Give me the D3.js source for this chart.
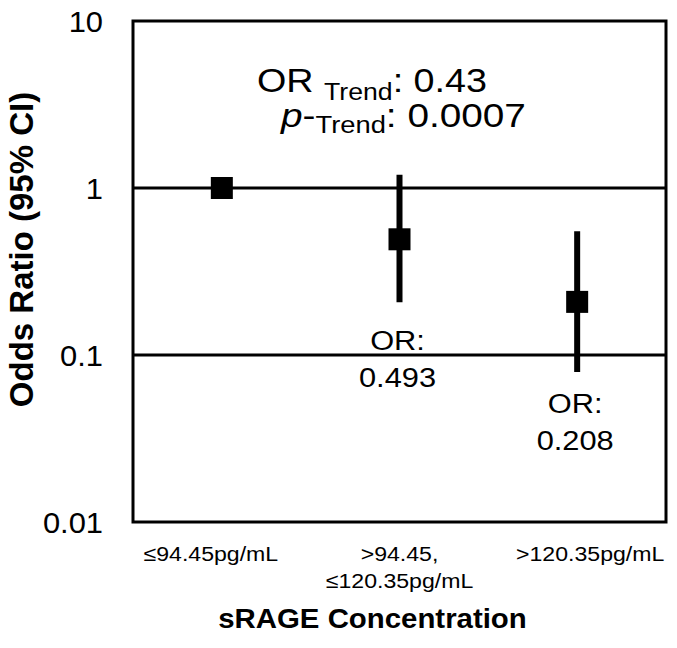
<!DOCTYPE html>
<html>
<head>
<meta charset="utf-8">
<script src="https://cdn.jsdelivr.net/npm/d3@7"></script>
<style>
  body { margin: 0; background: #fff; }
  svg { display: block; font-family: "Liberation Sans", Arial, sans-serif; }
</style>
</head>
<body>
<div id="chart"></div>
<script>
// data
var categories = ["c1", "c2", "c3"];
var catLabels = [["\u226494.45pg/mL"], [">94.45,", "\u2264120.35pg/mL"], [">120.35pg/mL"]];
var oddsRatio = [1, 0.493, 0.208];
var ciLow = [null, 0.207, 0.079];
var ciHigh = [null, 1.2, 0.55];
var orLabels = [null, "0.493", "0.208"];
var yTicks = [0.01, 0.1, 1, 10];
var yTickLabels = ["0.01", "0.1", "1", "10"];
var gridValues = [0.1, 1];

var width = 677, height = 648;
var plotLeft = 133, plotRight = 666, plotTop = 21, plotBottom = 522;
var sx = 1.1; // the figure's text is a bit stretched sideways

var svg = d3.select("#chart").append("svg")
  .attr("width", width)
  .attr("height", height);

var x = d3.scaleBand().domain(categories).range([plotLeft, plotRight]);
var y = d3.scaleLog().domain([0.01, 10]).range([plotBottom, plotTop]);

function cx(c) { return x(c) + x.bandwidth() / 2; }

// gridlines
svg.selectAll(".grid")
  .data(gridValues)
  .enter().append("line")
  .attr("x1", plotLeft).attr("x2", plotRight)
  .attr("y1", function(d){ return y(d); })
  .attr("y2", function(d){ return y(d); })
  .attr("stroke", "#000")
  .attr("stroke-width", 3);

// frame
svg.append("rect")
  .attr("x", plotLeft).attr("y", plotTop)
  .attr("width", plotRight - plotLeft).attr("height", plotBottom - plotTop)
  .attr("fill", "none")
  .attr("stroke", "#000")
  .attr("stroke-width", 3);

// y axis labels
var yAxis = svg.append("g")
  .attr("transform", "translate(" + plotLeft + ",0)")
  .call(d3.axisLeft(y).tickValues(yTicks).tickSize(0)
    .tickFormat(function(d, i){ return yTickLabels[i]; }));
yAxis.select(".domain").remove();
yAxis.selectAll("text")
  .attr("font-size", 30)
  .attr("font-family", "Liberation Sans, Arial, sans-serif")
  .attr("fill", "#000")
  .attr("dy", "0.36em")
  .attr("x", null)
  .attr("transform", "translate(-30,0) scale(1.03,1)");

// x category labels (the figure spreads them a little wider than the points)
var labShift = {c1: -11, c2: 0, c3: 13};
var xl = svg.selectAll(".xlab")
  .data(categories)
  .enter().append("text")
  .attr("class", "xlab")
  .attr("text-anchor", "middle")
  .attr("font-size", 21)
  .attr("transform", function(d){ return "translate(" + (cx(d) + labShift[d]) + ",561) scale(" + sx + ",1)"; });
xl.selectAll("tspan")
  .data(function(d, i){ return catLabels[i]; })
  .enter().append("tspan")
  .attr("x", 0)
  .attr("dy", function(d, i){ return i === 0 ? 0 : 27; })
  .text(function(d){ return d; });

// error bars
var pts = categories.map(function(c, i){
  return {c: c, or: oddsRatio[i], lo: ciLow[i], hi: ciHigh[i], lab: orLabels[i]};
});
svg.selectAll(".ci")
  .data(pts.filter(function(d){ return d.lo !== null; }))
  .enter().append("line")
  .attr("x1", function(d){ return cx(d.c); })
  .attr("x2", function(d){ return cx(d.c); })
  .attr("y1", function(d){ return y(d.hi); })
  .attr("y2", function(d){ return y(d.lo); })
  .attr("stroke", "#000")
  .attr("stroke-width", 6);

// markers
var ms = 22;
svg.selectAll(".pt")
  .data(pts)
  .enter().append("rect")
  .attr("x", function(d){ return cx(d.c) - ms/2; })
  .attr("y", function(d){ return y(d.or) - ms/2; })
  .attr("width", ms).attr("height", ms)
  .attr("fill", "#000");

// OR labels under the bars
var labY = {c2: 350, c3: 413};
var ol = svg.selectAll(".orlab")
  .data(pts.filter(function(d){ return d.lab !== null; }))
  .enter().append("text")
  .attr("text-anchor", "middle")
  .attr("font-size", 28)
  .attr("transform", function(d){ return "translate(" + (cx(d.c) - 2) + "," + labY[d.c] + ") scale(" + sx + ",1)"; });
ol.append("tspan").attr("x", 0).text("OR:");
ol.append("tspan").attr("x", 0).attr("dy", 37).text(function(d){ return d.lab; });

// trend annotation
var t1 = svg.append("text")
  .attr("font-size", 34)
  .attr("transform", "translate(257,92) scale(1.11,1)");
t1.append("tspan").text("OR ");
t1.append("tspan").attr("font-size", 24).attr("dy", 8).text("Trend");
t1.append("tspan").attr("dy", -8).text(": 0.43");

var t2 = svg.append("text")
  .attr("font-size", 34)
  .attr("transform", "translate(281,127) scale(1.14,1)");
t2.append("tspan").attr("font-style", "italic").text("p");
t2.append("tspan").text("-");
t2.append("tspan").attr("font-size", 24).attr("dy", 6).text("Trend");
t2.append("tspan").attr("dy", -6).text(": 0.0007");

// axis titles
svg.append("text")
  .attr("text-anchor", "middle")
  .attr("font-size", 28)
  .attr("font-weight", "bold")
  .attr("transform", "translate(" + ((plotLeft + plotRight)/2 - 27) + ",628) scale(1.05,1)")
  .text("sRAGE Concentration");

svg.append("text")
  .attr("text-anchor", "middle")
  .attr("font-size", 30)
  .attr("font-weight", "bold")
  .attr("transform", "translate(33," + ((plotTop + plotBottom)/2 - 22) + ") rotate(-90) scale(1.1,1.1)")
  .text("Odds Ratio (95% CI)");
</script>
</body>
</html>
